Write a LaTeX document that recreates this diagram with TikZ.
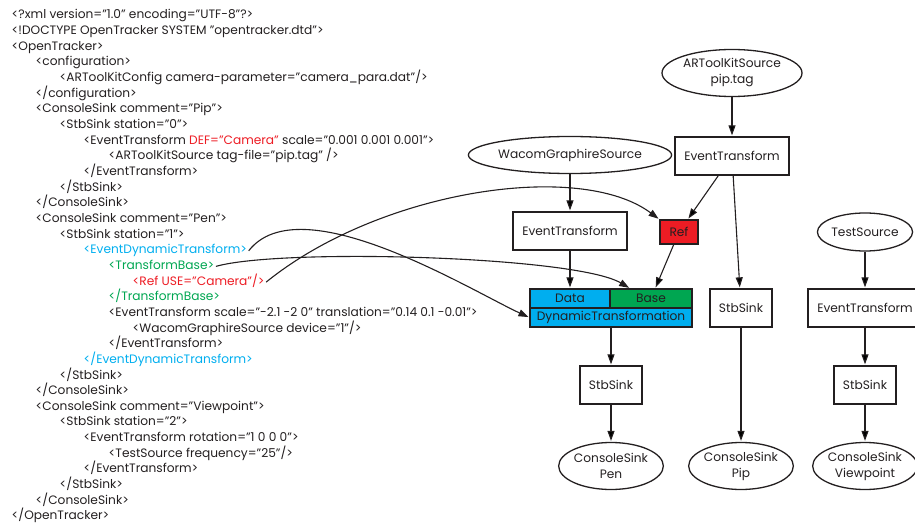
\documentclass[tikz,border=0pt]{standalone}
\usepackage{fontspec}
\setmainfont{Poppins}
\usetikzlibrary{arrows.meta,positioning,shapes.geometric}
\definecolor{ink}{HTML}{231F20}
\definecolor{xcyan}{HTML}{00AEEF}
\definecolor{xgreen}{HTML}{00A651}
\definecolor{xred}{HTML}{ED1C24}

\begin{document}
\begin{tikzpicture}[x=1pt,y=-1pt,on grid,shorten >=1pt,
    >={Triangle[length=10pt,width=7pt]},
    txtfont/.style={font=\fontsize{12.2}{16}\selectfont},
    xml/.style={txtfont,anchor=west,inner sep=1.5pt,text height=9pt,text depth=3pt,text=ink},
    box/.style={txtfont,draw=ink,line width=1.3pt,rectangle,minimum width=114pt,minimum height=38pt,inner sep=0pt,text=ink},
    sink/.style={box,minimum width=62pt},
    src/.style={txtfont,draw=ink,line width=1.3pt,ellipse,inner sep=0pt,text=ink,align=center},
    part/.style={txtfont,draw=ink,line width=1.3pt,rectangle,minimum height=19pt,inner sep=0pt,text=ink},
    link/.style={->,draw=ink,line width=1.1pt}]
  \useasboundingbox (0,0) rectangle (915,529);

  % opentracker.xml
  \node[xml] (l0)  at (10,16)    {<?xml version="1.0" encoding="UTF-8"?>};
  \node[xml] (l1)  at (10,31.7)  {<!DOCTYPE OpenTracker SYSTEM "opentracker.dtd">};
  \node[xml] (l2)  at (10,47.3)  {<OpenTracker>};
  \node[xml] (l3)  at (34,63)    {<configuration>};
  \node[xml] (l4)  at (58,78.6)  {<ARToolKitConfig camera-parameter="camera\_para.dat"/>};
  \node[xml] (l5)  at (34,94.3)  {</configuration>};
  \node[xml] (l6)  at (34,109.9) {<ConsoleSink comment="Pip">};
  \node[xml] (l7)  at (58,125.6) {<StbSink station="0">};
  \node[xml] (l8)  at (82,141.2) {<EventTransform \textcolor{xred}{DEF="Camera"} scale="0.001 0.001 0.001">};
  \node[xml] (l9)  at (107,156.9) {<ARToolKitSource tag-file="pip.tag" />};
  \node[xml] (l10) at (82,172.5) {</EventTransform>};
  \node[xml] (l11) at (58,188.2) {</StbSink>};
  \node[xml] (l12) at (34,203.8) {</ConsoleSink>};
  \node[xml] (l13) at (34,219.5) {<ConsoleSink comment="Pen">};
  \node[xml] (l14) at (58,235.1) {<StbSink station="1">};
  \node[xml,text=xcyan] (l15) at (82,250.8) {<EventDynamicTransform>};
  \node[xml,text=xgreen] (l16) at (107,266.4) {<TransformBase>};
  \node[xml,text=xred] (l17) at (131,282.1) {<Ref USE="Camera"/>};
  \node[xml,text=xgreen] (l18) at (107,297.7) {</TransformBase>};
  \node[xml] (l19) at (107,313.4) {<EventTransform scale="-2.1 -2 0" translation="0.14 0.1 -0.01">};
  \node[xml] (l20) at (131,329)   {<WacomGraphireSource device="1"/>};
  \node[xml] (l21) at (107,344.7) {</EventTransform>};
  \node[xml,text=xcyan] (l22) at (82,360.3) {</EventDynamicTransform>};
  \node[xml] (l23) at (58,376)    {</StbSink>};
  \node[xml] (l24) at (34,391.6)  {</ConsoleSink>};
  \node[xml] (l25) at (34,407.3)  {<ConsoleSink comment="Viewpoint">};
  \node[xml] (l26) at (58,422.9)  {<StbSink station="2">};
  \node[xml] (l27) at (82,438.6)  {<EventTransform rotation="1 0 0 0">};
  \node[xml] (l28) at (107,454.2) {<TestSource frequency="25"/>};
  \node[xml] (l29) at (82,469.9)  {</EventTransform>};
  \node[xml] (l30) at (58,485.5)  {</StbSink>};
  \node[xml] (l31) at (34,501.2)  {</ConsoleSink>};
  \node[xml] (l32) at (10,516.8)  {</OpenTracker>};

  % graph
  \node[src,minimum width=140pt,minimum height=47pt] (artk) at (732,73) {ARToolKitSource\\pip.tag};
  \node[box] (etpip) [below=83pt of artk] {EventTransform};
  \node[src,minimum width=162pt,minimum height=37pt] (wacom) at (570,155) {WacomGraphireSource};
  \node[box] (etpen) [below=76pt of wacom] {EventTransform};
  \node[part,fill=xred,minimum width=38pt,minimum height=24pt] (ref) at (679,232) {Ref};
  \node[src,minimum width=87pt,minimum height=38pt] (test) at (865,232) {TestSource};
  \node[part,fill=xcyan,minimum width=80pt] (data) at (570,298.5) {Data};
  \node[part,fill=xgreen,minimum width=82pt] (base) [right=81pt of data] {Base};
  \node[part,fill=xcyan,minimum width=162pt] (dynt) at (611,317.5) {DynamicTransformation};
  \node[sink] (stbpip) at (741,308) {StbSink};
  \node[box] (etvp) [below=76pt of test] {EventTransform};
  \node[sink] (stbpen) [below=67.5pt of dynt] {StbSink};
  \node[sink] (stbvp) [below=77pt of etvp] {StbSink};
  \node[src,minimum width=104pt,minimum height=47pt] (cspen) [below=81pt of stbpen] {ConsoleSink\\Pen};
  \node[src,minimum width=104pt,minimum height=47pt] (cspip) [below=158pt of stbpip] {ConsoleSink\\Pip};
  \node[src,minimum width=104pt,minimum height=47pt] (csvp) [below=81pt of stbvp] {ConsoleSink\\Viewpoint};

  \path[link]
    (artk) edge (etpip)
    (etpip) edge (ref)
            edge (stbpip)
    (wacom) edge (etpen)
    (etpen) edge (data)
    (ref) edge (base)
    (dynt) edge (stbpen)
    (stbpen) edge (cspen)
    (stbpip) edge (cspip)
    (test) edge (etvp)
    (etvp) edge (stbvp)
    (stbvp) edge (csvp);

  % links from the xml to the graph
  \draw[link] (l15.east) .. controls (300,185) and (470,290) .. (dynt.west);
  \draw[link] (l16.east) .. controls (280,248) and (575,256) .. ([xshift=-21pt]base.north);
  \draw[link] (l17.east) .. controls (380,190) and (580,160) .. (ref.north west);
\end{tikzpicture}
\end{document}
